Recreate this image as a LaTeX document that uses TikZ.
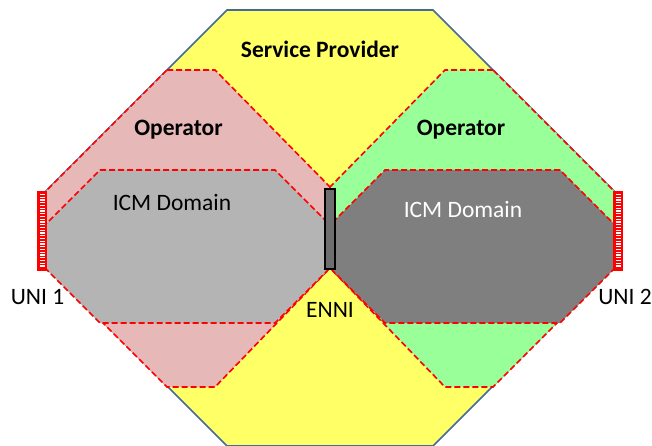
\documentclass[tikz,border=0pt]{standalone}
\usepackage{fontspec}
\setmainfont{Carlito}
\definecolor{spyellow}{HTML}{FFFF66}
\definecolor{spedge}{HTML}{44699A}
\definecolor{oppink}{HTML}{E6B8B7}
\definecolor{opgreen}{HTML}{99FF99}
\definecolor{icmlight}{HTML}{B4B4B4}
\definecolor{icmdark}{HTML}{7F7F7F}
\definecolor{ennifill}{HTML}{6E6E6E}
\definecolor{unired}{HTML}{FF0000}
\tikzset{
  provider/.style={fill=spyellow, draw=spedge, line width=1.6pt, line join=miter},
  region/.style={draw=unired, line width=1.6pt, dash pattern=on 6pt off 3pt},
  lbl/.style={font=\fontsize{23.5}{27}\selectfont, inner sep=0pt, anchor=base},
  boldlbl/.style={lbl, font=\fontsize{23.5}{27}\selectfont\bfseries},
  enni/.style={fill=ennifill, draw=black, line width=1.5pt},
}
\begin{document}
\begin{tikzpicture}[x=1pt,y=-1pt]
  \useasboundingbox (0,0) rectangle (652,446);
  \clip (0,0) rectangle (652,446);
  % service provider octagon
  \path[provider] (227,10) -- (433,10) -- (615,192) -- (615,264) -- (433,446)
        -- (227,446) -- (45,264) -- (45,192) -- cycle;
  % operator domains
  \path[region, fill=oppink] (167,70) -- (215,70) -- (330,187) -- (330,268)
        -- (215,387) -- (167,387) -- (45,265) -- (45,192) -- cycle;
  \path[region, fill=opgreen] (493,70) -- (445,70) -- (330,187) -- (330,268)
        -- (445,387) -- (493,387) -- (615,265) -- (615,192) -- cycle;
  % ICM domains
  \path[region, fill=icmlight] (100,170) -- (275,170) -- (330,225) -- (330,268)
        -- (275,323) -- (100,323) -- (45,268) -- (45,225) -- cycle;
  \path[region, fill=icmdark] (560,170) -- (385,170) -- (330,225) -- (330,268)
        -- (385,323) -- (560,323) -- (615,268) -- (615,225) -- cycle;
  % UNI ports
  \fill[unired] (37,191) rectangle (47,271);
  \fill[unired] (613,191) rectangle (623,271);
  \foreach \y in {194.5,197.25,...,268.5} {
    \draw[white, line width=1.2pt] (40,\y) -- (45,\y);
    \draw[white, line width=1.2pt] (616,\y) -- (621,\y);
  }
  % ENNI
  \node[enni, minimum width=10pt, minimum height=80pt, inner sep=0pt] (ennibar) at (330,229) {};
  % labels
  \node[boldlbl] (sp) at (320,58) {Service Provider};
  \node[boldlbl] (opl) at (178.5,136) {Operator};
  \node[boldlbl] (opr) at (461,136) {Operator};
  \node[lbl] (icml) at (172,211) {ICM Domain};
  \node[lbl, text=white] (icmr) at (463,217) {ICM Domain};
  \node[lbl] (uni1) at (37.5,304) {UNI 1};
  \node[lbl] (uni2) at (625,304) {UNI 2};
  \node[lbl] (ennilbl) at (330,317) {ENNI};
\end{tikzpicture}
\end{document}
